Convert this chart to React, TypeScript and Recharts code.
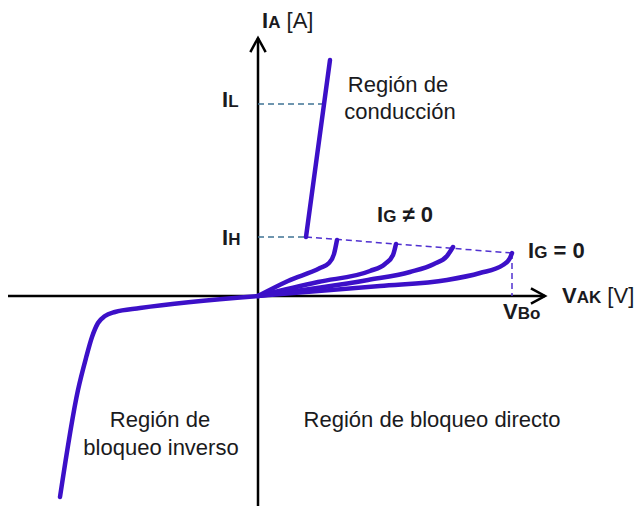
import React from "react";
import { LineChart, Line, XAxis, YAxis, ReferenceLine, ReferenceDot } from "recharts";

type Pt = { v: number; i: number };

// characteristic curves (V_AK, I_A), arbitrary units
const conduction: Pt[] = [
  { v: 48, i: 59 },
  { v: 72, i: 236 },
];
const blockIg3: Pt[] = [
  { v: 0, i: 0 },
  { v: 30, i: 15 },
  { v: 62, i: 28 },
  { v: 71, i: 33 },
  { v: 76, i: 42 },
  { v: 79, i: 56 },
];
const blockIg2: Pt[] = [
  { v: 0, i: 0 },
  { v: 60, i: 14 },
  { v: 112, i: 25 },
  { v: 127, i: 32 },
  { v: 135, i: 41 },
  { v: 138, i: 52 },
];
const blockIg1: Pt[] = [
  { v: 0, i: 0 },
  { v: 110, i: 16 },
  { v: 152, i: 24 },
  { v: 176, i: 32 },
  { v: 189, i: 40 },
  { v: 195, i: 49 },
];
const blockIg0: Pt[] = [
  { v: 0, i: 0 },
  { v: 122, i: 10 },
  { v: 189, i: 16 },
  { v: 222, i: 23 },
  { v: 245, i: 31 },
  { v: 252, i: 38 },
  { v: 254, i: 43 },
];
const reverse: Pt[] = [
  { v: -198, i: -201 },
  { v: -180, i: -94 },
  { v: -172, i: -62 },
  { v: -166, i: -41 },
  { v: -160, i: -27 },
  { v: -153, i: -20 },
  { v: -143, i: -16 },
  { v: -118, i: -12 },
  { v: 0, i: 0 },
];

const IL = 192;
const IH = 59;
const VBO = 254;
const IBO = 43;
const vHold = 48;
const vLatch = 65;

const BLUE = "#3c10c8";
const TEAL = "#3f7394";
const TEXT = "#1a1a20";

const W = 643;
const H = 506;

const Arrow = (props: any) => {
  const { x1, y1, x2, y2 } = props;
  const a = Math.atan2(y2 - y1, x2 - x1);
  const l = 16;
  const s = 0.5;
  const p1x = x2 - l * Math.cos(a - s);
  const p1y = y2 - l * Math.sin(a - s);
  const p2x = x2 - l * Math.cos(a + s);
  const p2y = y2 - l * Math.sin(a + s);
  return (
    <g>
      <line x1={x1} y1={y1} x2={x2} y2={y2} stroke="#000" strokeWidth={2.5} />
      <polyline
        points={`${p1x},${p1y} ${x2},${y2} ${p2x},${p2y}`}
        fill="none"
        stroke="#000"
        strokeWidth={2.5}
      />
    </g>
  );
};

type Part = { t: string; sub?: boolean; regular?: boolean };

const txt = (parts: Part[], anchor: "start" | "middle" = "start") => (props: any) => (
  <text
    x={props.cx}
    y={props.cy}
    textAnchor={anchor}
    fill={TEXT}
    fontFamily="'Liberation Sans', Arial, sans-serif"
  >
    {parts.map((p, k) => (
      <tspan
        key={k}
        fontSize={p.sub ? 17 : 22}
        fontWeight={p.regular ? 400 : 700}
      >
        {p.t}
      </tspan>
    ))}
  </text>
);

const labels: { v: number; i: number; parts: Part[]; anchor?: "start" | "middle" }[] = [
  { v: 4, i: 268, parts: [{ t: "I" }, { t: "A", sub: true }, { t: " [A]", regular: true }] },
  { v: -36, i: 189, parts: [{ t: "I" }, { t: "L", sub: true }] },
  { v: -36, i: 51, parts: [{ t: "I" }, { t: "H", sub: true }] },
  { v: 119, i: 74, parts: [{ t: "I" }, { t: "G", sub: true }, { t: " ≠ 0" }] },
  { v: 270, i: 38, parts: [{ t: "I" }, { t: "G", sub: true }, { t: " = 0" }] },
  { v: 304, i: -7, parts: [{ t: "V" }, { t: "AK", sub: true }, { t: " [V]", regular: true }] },
  { v: 245, i: -23, parts: [{ t: "V" }, { t: "Bo", sub: true }] },
  { v: 140, i: 204, parts: [{ t: "Región de", regular: true }], anchor: "middle" },
  { v: 142, i: 177, parts: [{ t: "conducción", regular: true }], anchor: "middle" },
  { v: 174, i: -131, parts: [{ t: "Región de bloqueo directo", regular: true }], anchor: "middle" },
  { v: -98, i: -131, parts: [{ t: "Región de", regular: true }], anchor: "middle" },
  { v: -97, i: -159, parts: [{ t: "bloqueo inverso", regular: true }], anchor: "middle" },
];

const curves = [conduction, blockIg3, blockIg2, blockIg1, blockIg0, reverse];

export default function App() {
  return (
    <div style={{ position: "absolute", left: 0, top: 0, width: W, height: H, background: "#fff" }}>
      <LineChart width={W} height={H} margin={{ top: 0, right: 0, bottom: 0, left: 0 }}>
        <XAxis type="number" dataKey="v" domain={[-258, 385]} hide allowDataOverflow />
        <YAxis type="number" dataKey="i" domain={[-210, 296]} hide allowDataOverflow />

        <ReferenceLine
          segment={[{ x: 0, y: -210 }, { x: 0, y: 258 }]}
          ifOverflow="visible"
          shape={Arrow}
        />
        <ReferenceLine
          segment={[{ x: -250, y: 0 }, { x: 287, y: 0 }]}
          ifOverflow="visible"
          shape={Arrow}
        />

        <ReferenceLine
          segment={[{ x: 0, y: IL }, { x: vLatch, y: IL }]}
          stroke={TEAL}
          strokeWidth={1.5}
          strokeDasharray="6 4"
        />
        <ReferenceLine
          segment={[{ x: 0, y: IH }, { x: vHold, y: IH }]}
          stroke={TEAL}
          strokeWidth={1.5}
          strokeDasharray="6 4"
        />
        <ReferenceLine
          segment={[{ x: vHold, y: IH }, { x: VBO, y: IBO }]}
          stroke="#5030d0"
          strokeWidth={1.5}
          strokeDasharray="6 4"
        />
        <ReferenceLine
          segment={[{ x: VBO, y: IBO }, { x: VBO, y: 0 }]}
          stroke="#5030d0"
          strokeWidth={1.5}
          strokeDasharray="6 4"
        />

        {curves.map((d, k) => (
          <Line
            key={k}
            data={d}
            dataKey="i"
            type={k === 0 ? "linear" : "monotone"}
            stroke={BLUE}
            strokeWidth={4.5}
            strokeLinecap="round"
            dot={false}
            activeDot={false}
            isAnimationActive={false}
          />
        ))}

        {labels.map((l, k) => (
          <ReferenceDot
            key={`l${k}`}
            x={l.v}
            y={l.i}
            r={0}
            ifOverflow="visible"
            shape={txt(l.parts, l.anchor)}
          />
        ))}
      </LineChart>
    </div>
  );
}
